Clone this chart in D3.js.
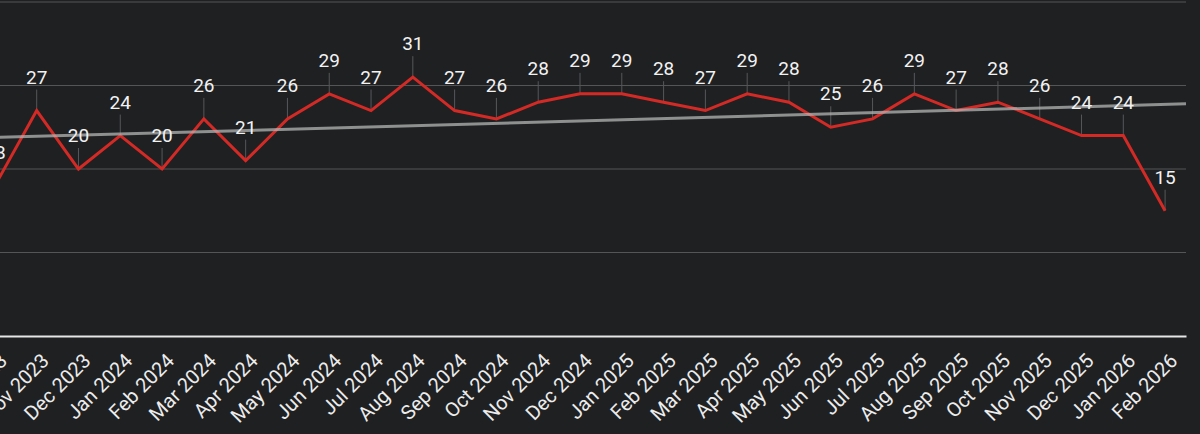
<!DOCTYPE html>
<html><head><meta charset="utf-8">
<script src="https://cdn.jsdelivr.net/npm/d3@7"></script>
<style>
html,body{margin:0;padding:0;background:#1f2022;overflow:hidden;}
svg{display:block;}
</style></head>
<body>
<svg id="chart" width="1200" height="434"></svg>
<script>
const months = ["Oct 2023","Nov 2023","Dec 2023","Jan 2024","Feb 2024","Mar 2024","Apr 2024","May 2024","Jun 2024","Jul 2024","Aug 2024","Sep 2024","Oct 2024","Nov 2024","Dec 2024","Jan 2025","Feb 2025","Mar 2025","Apr 2025","May 2025","Jun 2025","Jul 2025","Aug 2025","Sep 2025","Oct 2025","Nov 2025","Dec 2025","Jan 2026","Feb 2026"];
const values = [18,27,20,24,20,26,21,26,29,27,31,27,26,28,29,29,28,27,29,28,25,26,29,27,28,26,24,24,15];
const yTicks = [0,10,20,30,40];
const trendValues = [23.7, 27.8]; // trend line value at left and right edge of plot

const svg = d3.select("#chart");
const pLeft = -26, pRight = 1186, pTop = 2, pBottom = 336;

const x = d3.scalePoint().domain(months).range([pLeft, pRight]).padding(0.5);
const y = d3.scaleLinear().domain([0, 40]).range([pBottom, pTop]);

// gridlines
svg.append("g").selectAll("line").data(yTicks.filter(d => d > 0)).join("line")
  .attr("x1", pLeft).attr("x2", pRight)
  .attr("y1", d => y(d)).attr("y2", d => y(d))
  .attr("stroke", "#545557").attr("stroke-width", 1.2);

// x axis
const xAxis = d3.axisBottom(x).tickSize(0).tickPadding(0);
const gx = svg.append("g").attr("transform", `translate(0,${y(0)})`).call(xAxis);
gx.attr("font-size", 20).attr("font-family", "Roboto, 'Noto Sans', sans-serif");
gx.select(".domain").attr("stroke", "#e6e6e6").attr("stroke-width", 2.2);
gx.selectAll("text")
  .attr("fill", "#ececec")
  .attr("text-anchor", "end")
  .attr("dy", null)
  .attr("y", 0)
  .attr("transform", "translate(13,26) rotate(-45)");

// leader lines
svg.append("g").selectAll("line").data(values).join("line")
  .attr("x1", (d, i) => x(months[i])).attr("x2", (d, i) => x(months[i]))
  .attr("y1", d => y(d) - 21).attr("y2", d => y(d))
  .attr("stroke", "#56575a").attr("stroke-width", 1);

// data line
const line = d3.line().x((d, i) => x(months[i])).y(d => y(d));
svg.append("path").datum(values)
  .attr("d", line)
  .attr("fill", "none")
  .attr("stroke", "#d32a26")
  .attr("stroke-width", 3)
  .attr("stroke-linejoin", "miter");

// trend line
svg.append("line")
  .attr("x1", pLeft).attr("x2", pRight)
  .attr("y1", y(trendValues[0])).attr("y2", y(trendValues[1]))
  .attr("stroke", "#b4b4b4").attr("stroke-opacity", 0.75).attr("stroke-width", 3);

// value labels
svg.append("g").selectAll("text").data(values).join("text")
  .attr("x", (d, i) => x(months[i]))
  .attr("y", d => y(d) - 27)
  .attr("text-anchor", "middle")
  .attr("fill", "#f2f2f2")
  .attr("font-family", "Roboto, 'Noto Sans', sans-serif")
  .attr("font-size", 19)
  .text(d => d);
</script>
</body></html>
